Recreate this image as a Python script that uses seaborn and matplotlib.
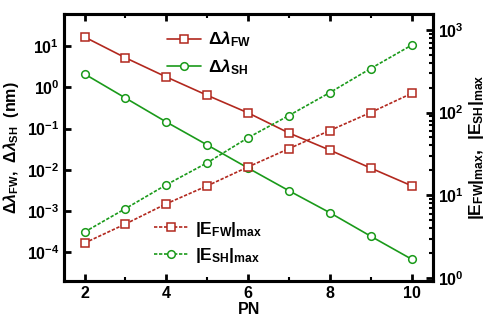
import numpy as np
import pandas as pd
import matplotlib
matplotlib.use("Agg")
import matplotlib.pyplot as plt
import seaborn as sns
from matplotlib.ticker import LogLocator, MultipleLocator, NullFormatter

# values
pn = [2, 3, 4, 5, 6, 7, 8, 9, 10]
dl_fw = [16.6, 5.2, 1.78, 0.64, 0.24, 0.078, 0.030, 0.011, 0.0041]
dl_sh = [2.1, 0.55, 0.144, 0.040, 0.011, 0.0031, 0.00091, 0.000245, 0.000068]
e_fw = [2.65, 4.5, 7.9, 13.0, 22.0, 36.6, 60.6, 100.0, 170.0]
e_sh = [3.6, 6.9, 13.4, 24.7, 49.6, 92.0, 174.0, 340.0, 650.0]

red = "#b2281e"
green = "#1a9a1a"

sns.set_style("ticks", {"axes.edgecolor": "black", "xtick.color": "black",
                        "ytick.color": "black", "text.color": "black",
                        "axes.labelcolor": "black"})
plt.rcParams["font.family"] = ["Liberation Sans", "DejaVu Sans"]
plt.rcParams["font.weight"] = "bold"
plt.rcParams["axes.labelweight"] = "bold"
plt.rcParams["mathtext.fontset"] = "custom"
plt.rcParams["mathtext.rm"] = "Liberation Sans:bold"
plt.rcParams["mathtext.it"] = "Liberation Sans:bold:italic"
plt.rcParams["mathtext.bf"] = "Liberation Sans:bold"

df = pd.DataFrame({"PN": pn, "dl_fw": dl_fw, "dl_sh": dl_sh, "e_fw": e_fw, "e_sh": e_sh})

fig, ax = plt.subplots(figsize=(4.9, 3.26), dpi=100)
fig.subplots_adjust(left=0.131, right=0.884, top=0.957, bottom=0.138)
ax2 = ax.twinx()

mk = dict(markersize=5.5, markerfacecolor="white", markeredgewidth=1.1, linewidth=1.2)
sns.lineplot(data=df, x="PN", y="dl_fw", ax=ax, color=red, marker="s",
             markeredgecolor=red, label=r"$\Delta\mathit{\lambda}_{\rm FW}$", **mk)
sns.lineplot(data=df, x="PN", y="dl_sh", ax=ax, color=green, marker="o",
             markeredgecolor=green, label=r"$\Delta\mathit{\lambda}_{\rm SH}$", **mk)
sns.lineplot(data=df, x="PN", y="e_fw", ax=ax2, color=red, marker="s", linestyle=(0, (2, 1)),
             markeredgecolor=red, label=r"$|{\rm E}_{\rm FW}|_{\rm max}$", **mk)
sns.lineplot(data=df, x="PN", y="e_sh", ax=ax2, color=green, marker="o", linestyle=(0, (2, 1)),
             markeredgecolor=green, label=r"$|{\rm E}_{\rm SH}|_{\rm max}$", **mk)

ax.set_yscale("log")
ax2.set_yscale("log")
ax.set_xlim(1.5, 10.53)
ax.set_ylim(2e-5, 60)
ax2.set_ylim(0.92, 1550)

ax.xaxis.set_major_locator(MultipleLocator(2))
ax.xaxis.set_minor_locator(MultipleLocator(1))
ax.yaxis.set_major_locator(LogLocator(base=10, numticks=20))
ax.yaxis.set_minor_locator(LogLocator(base=10, subs=[], numticks=20))
ax2.yaxis.set_major_locator(LogLocator(base=10, numticks=20))
ax2.yaxis.set_minor_locator(LogLocator(base=10, subs=np.arange(2, 10), numticks=20))
ax2.yaxis.set_minor_formatter(NullFormatter())

for a in (ax, ax2):
    for s in a.spines.values():
        s.set_linewidth(2.2)
        s.set_color("black")
        s.set_visible(True)
    a.tick_params(which="major", direction="in", length=5, width=2, labelsize=11.5, colors="black")
    a.tick_params(which="minor", direction="in", length=3, width=1.5, colors="black")
ax.tick_params(axis="x", which="both", top=True)
ax.tick_params(axis="y", which="both", right=False)

ax.set_xlabel("PN", fontsize=11.5, fontweight="bold", labelpad=1)
ax2.set_xlabel("")
ax.set_ylabel(r"$\Delta\mathit{\lambda}_{\rm FW}$,  $\Delta\mathit{\lambda}_{\rm SH}$  (nm)",
              fontsize=11.5, labelpad=4)
ax2.set_ylabel(r"$|{\rm E}_{\rm FW}|_{\rm max}$,  $|{\rm E}_{\rm SH}|_{\rm max}$", fontsize=12.5, labelpad=2)

ax.legend(loc="upper left", bbox_to_anchor=(0.235, 1.0), frameon=False, fontsize=12.5,
          handlelength=2.0, handletextpad=0.4, labelspacing=0.45)
ax2.legend(loc="lower left", bbox_to_anchor=(0.2, 0.0), frameon=False, fontsize=12.5,
           handlelength=2.0, handletextpad=0.4, labelspacing=0.45)

fig.savefig("out.png", dpi=100)
